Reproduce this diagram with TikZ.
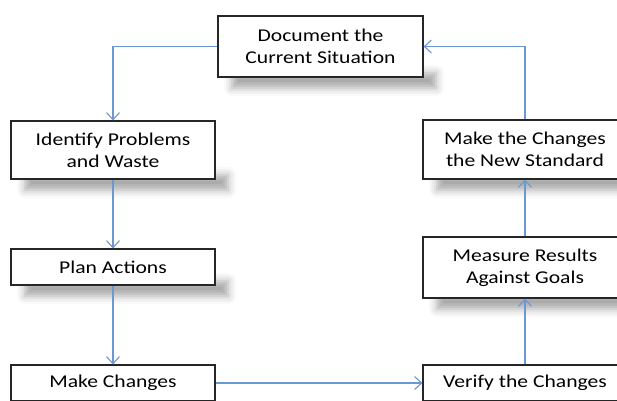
\documentclass[tikz,border=0pt]{standalone}
\usepackage{fontspec}
\setmainfont{Carlito}
\newfontfamily\boxfont[FakeStretch=1.2]{Carlito}
\usetikzlibrary{arrows.meta,shadows.blur,calc}
\definecolor{linkblue}{HTML}{6A98D2}
\tikzset{
  stepbox/.style={draw=black!85, line width=1.2pt, fill=white, align=center,
    inner sep=0pt, font=\boxfont\fontsize{18}{22}\selectfont, text=black},
  link/.style={draw=linkblue, line width=1.3pt, -{Straight Barb[length=7pt,width=13pt,line width=1.1pt]}},
  boxshadow/.style={blur shadow={shadow xshift=0pt, shadow yshift=0pt, shadow blur radius=8pt, shadow opacity=35}}
}
\begin{document}
\begin{tikzpicture}[x=1pt,y=-1pt]
\useasboundingbox (0,0) rectangle (617,400);
% soft shadows below the boxes
\foreach \x/\y/\w/\h in {320.5/46.5/205/61, 113/150/204/58, 113/267/204/36, 525/149.5/204/59, 525/267.5/204/61}{
  \path[boxshadow] (\x-\w/2+14, \y+\h/2-4) rectangle (\x+\w/2+13, \y+\h/2+11);
}
% nodes
\node[stepbox, minimum width=205pt, minimum height=61pt] (doc) at (320.5,46.5) {Document the\\Current Situation};
\node[stepbox, minimum width=204pt, minimum height=58pt] (ident) at (113,150) {Identify Problems\\and Waste};
\node[stepbox, minimum width=204pt, minimum height=36pt] (plan) at (113,267) {Plan Actions};
\node[stepbox, minimum width=204pt, minimum height=36pt] (make) at (113,383) {Make Changes};
\node[stepbox, minimum width=204pt, minimum height=36pt] (verify) at (525,383) {Verify the Changes};
\node[stepbox, minimum width=204pt, minimum height=61pt] (meas) at (525,267.5) {Measure Results\\Against Goals};
\node[stepbox, minimum width=204pt, minimum height=59pt] (std) at (525,149.5) {Make the Changes\\the New Standard};
% connectors
\draw[link] (doc.west) -| (ident.north);
\draw[link] (ident.south) -- (plan.north);
\draw[link] (plan.south) -- (make.north);
\draw[link] (make.east) -- (verify.west);
\draw[link] (verify.north) -- (meas.south);
\draw[link] (meas.north) -- (std.south);
\draw[link] (std.north) |- (doc.east);
\end{tikzpicture}
\end{document}
